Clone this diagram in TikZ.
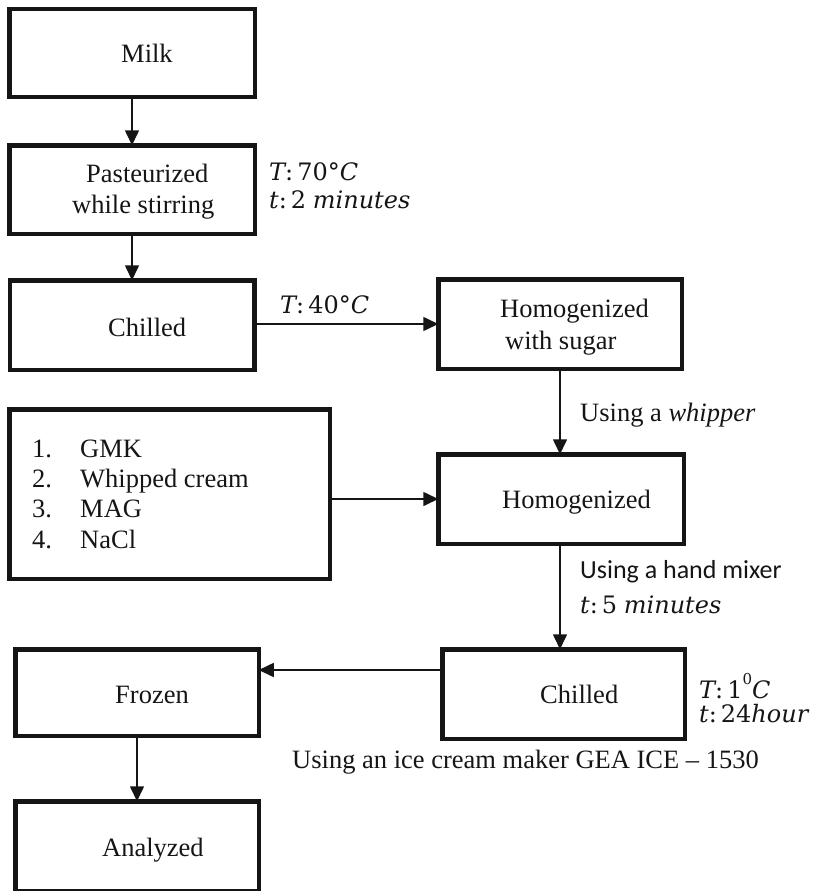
\documentclass[tikz,border=0pt]{standalone}
\usepackage{fontspec}
\setmainfont{Liberation Serif}
\newfontfamily\calib{Carlito}
\newfontfamily\mathf{DejaVu Serif}
\usetikzlibrary{arrows.meta}
\definecolor{ink}{HTML}{151515}
\newcommand\mv[1]{{\mathf\itshape #1}}
\newcommand\mn[1]{{\mathf #1}}
\tikzset{
  box/.style={draw=ink, line width=4.5pt, rectangle, inner sep=0pt, outer sep=0pt},
  txt/.style={anchor=base west, inner sep=0pt, text=ink, font=\fontsize{26.5}{31}\selectfont},
  mtxt/.style={anchor=base west, inner sep=0pt, text=ink, font=\fontsize{24}{29}\selectfont},
  ctxt/.style={anchor=base west, inner sep=0pt, text=ink, font=\calib\fontsize{26}{31}\selectfont},
  arr/.style={draw=ink, line width=1.6pt, -{Triangle[length=15pt,width=14pt]}},
}
\begin{document}
\begin{tikzpicture}[x=1pt,y=-1pt]
\useasboundingbox (0,0) rectangle (814,891);
% boxes
\node[box, minimum width=245.5pt, minimum height=87.5pt] (milk) at (132,53) {};
\node[box, minimum width=245.5pt, minimum height=88.5pt] (past) at (132,189.5) {};
\node[box, minimum width=244.5pt, minimum height=89.5pt] (chil1) at (132,325) {};
\node[box, minimum width=243.5pt, minimum height=89.5pt] (hs) at (560,324) {};
\node[box, minimum width=320.5pt, minimum height=169.5pt] (ing) at (169.5,494) {};
\node[box, minimum width=245.5pt, minimum height=89.5pt] (hom) at (561,499) {};
\node[box, minimum width=242.5pt, minimum height=89.5pt] (chil2) at (563.5,694) {};
\node[box, minimum width=243.5pt, minimum height=86.5pt] (froz) at (137,692.5) {};
\node[box, minimum width=243.5pt, minimum height=89.5pt] (ana) at (137,846) {};
% box texts
\node[txt] (tmilk) at (121,63) {Milk};
\node[txt] (tpast1) at (86,182) {Pasteurized};
\node[txt] (tpast2) at (72,213) {while stirring};
\node[txt] (tchil1) at (108,336) {Chilled};
\node[txt] (ths1) at (500,317) {Homogenized};
\node[txt] (ths2) at (505,349) {with sugar};
\node[txt] (n1) at (32,457) {1.};
\node[txt] (n2) at (32,487) {2.};
\node[txt] (n3) at (32,517) {3.};
\node[txt] (n4) at (32,548) {4.};
\node[txt] (i1) at (80,457) {GMK};
\node[txt] (i2) at (80,487) {Whipped cream};
\node[txt] (i3) at (80,517) {MAG};
\node[txt] (i4) at (80,548) {NaCl};
\node[txt] (thom) at (502,508) {Homogenized};
\node[txt] (tchil2) at (540,703) {Chilled};
\node[txt] (tfroz) at (115,703) {Frozen};
\node[txt] (tana) at (102,856) {Analyzed};
% side labels
\node[mtxt] (l70a) at (269,180) {\mv{T}\mn{:}\,\mn{70°}\mv{C}};
\node[mtxt] (l70b) at (269,208) {\mv{t}\mn{:}\,\mn{2}\;\mv{minutes}};
\node[mtxt] (l40) at (280,313) {\mv{T}\mn{:}\,\mn{40°}\mv{C}};
\node[txt] (lwhip) at (580,421) {Using a \textit{whipper}};
\node[ctxt] (lhand) at (580,578) {Using a hand mixer};
\node[mtxt] (l5) at (580,613) {\mv{t}\mn{:}\,\mn{5}\;\mv{minutes}};
\node[mtxt] (l1a) at (699,698) {\mv{T}\mn{:}\,\mn{1}\raisebox{0.55em}{\fontsize{15}{15}\selectfont\mn{0}}\mv{C}};
\node[mtxt] (l1b) at (699,722) {\mv{t}\mn{:}\,\mn{24}\mv{hour}};
\node[txt] (lice) at (292,768) {Using an ice cream maker GEA ICE – 1530};
% connectors
\draw[arr] (milk.south) -- (milk.south |- past.north);
\draw[arr] (past.south) -- (past.south |- chil1.north);
\draw[arr] (chil1.east |- hs.west) -- (hs.west);
\draw[arr] (hs.south) -- (hs.south |- hom.north);
\draw[arr] (ing.east |- hom.west) -- (hom.west);
\draw[arr] (hom.south -| hs.south) -- (hs.south |- chil2.north);
\coordinate (c2out) at (chil2.west |- 0,670);
\draw[arr] (c2out) -- (froz.east |- c2out);
\draw[arr] (froz.south) -- (froz.south |- ana.north);
\end{tikzpicture}
\end{document}
